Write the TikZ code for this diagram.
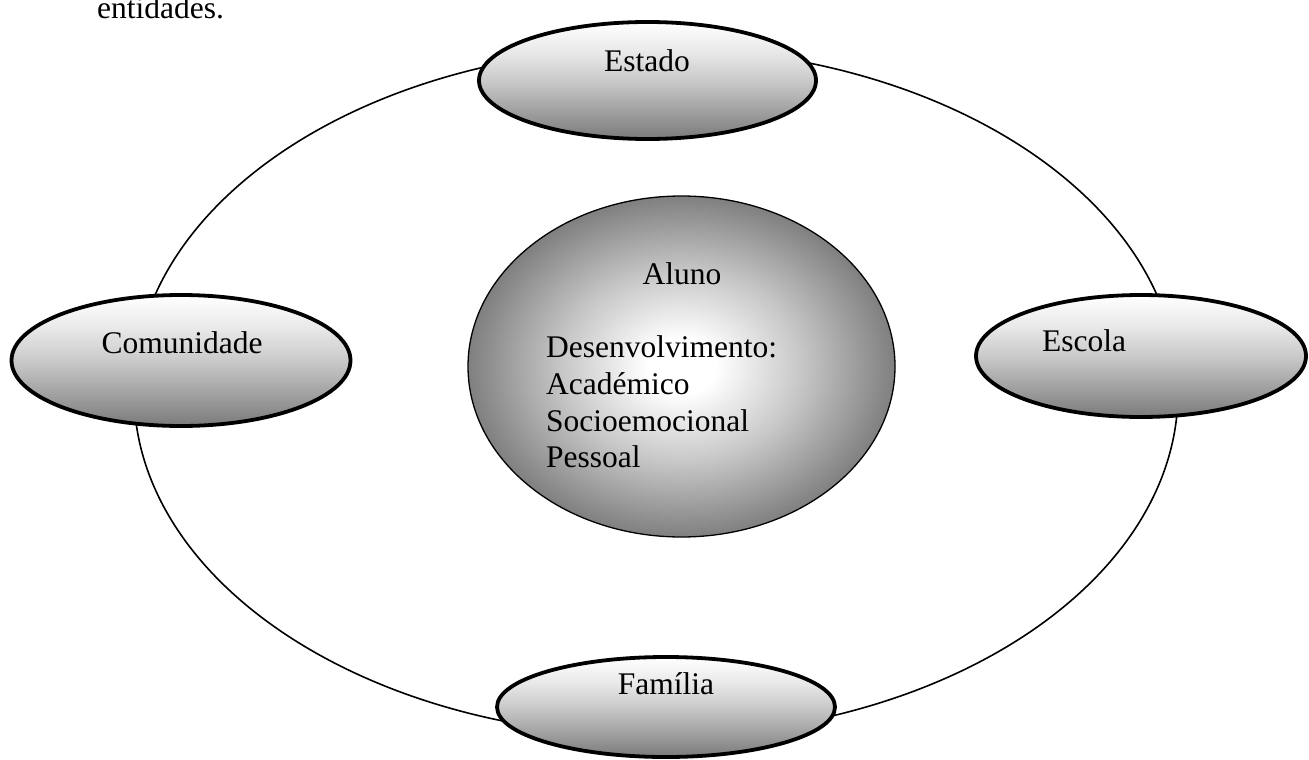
\documentclass[tikz,border=0pt]{standalone}
\usepackage{fontspec}
\setmainfont{Liberation Serif}
\usetikzlibrary{shapes.geometric}

% Soft white-to-grey glow for the central ellipse (25bp = edge of the shape)
\pgfdeclareradialshading{alunoglow}{\pgfpoint{0bp}{0bp}}{%
  color(0bp)=(white); color(4bp)=(white); color(14bp)=(black!22);
  color(25bp)=(black!50); color(50bp)=(black!55)}

% Top-lit fade for the entity ellipses (25bp = bottom, 75bp = top)
\pgfdeclareverticalshading{entityfade}{100bp}{%
  color(0bp)=(black!52); color(25bp)=(black!52); color(50bp)=(black!21);
  color(62bp)=(black!9); color(75bp)=(white); color(100bp)=(white)}

\begin{document}
\begin{tikzpicture}[x=1pt,y=-1pt,
  txt/.style={font=\fontsize{31.5}{36}\selectfont, inner sep=0pt, anchor=base},
  entity/.style={ellipse, draw=black, line width=3.8pt, inner sep=0pt,
    shading=entityfade},
  ring/.style={draw=black, line width=1.6pt}
]
\useasboundingbox (0,0) rectangle (1309,760);

% caption fragment above the diagram
\node[txt, anchor=base west] (caption) at (97,19) {entidades.};

% ring linking the four entities
\draw[ring] (656,392) ellipse [x radius=522, y radius=344];

% entities on the ring
\node[entity, minimum width=337pt, minimum height=117pt] (estado) at (647.5,80.5) {};
\node[entity, minimum width=339pt, minimum height=131pt] (comunidade) at (181,360.5) {};
\node[entity, minimum width=330pt, minimum height=122pt] (escola) at (1141,356) {};
\node[entity, minimum width=338pt, minimum height=100pt] (familia) at (666,707) {};

\node[txt] (estado-t) at (647,72) {Estado};
\node[txt] (comunidade-t) at (182,353) {Comunidade};
\node[txt] (escola-t) at (1084,351) {Escola};
\node[txt] (familia-t) at (666,694) {Família};

% the student at the centre
\node[ellipse, draw=black, line width=1.3pt, shading=alunoglow, inner sep=0pt,
  minimum width=427pt, minimum height=341pt] (aluno) at (681.5,366.5) {};

\node[txt] (aluno-t) at (682,284) {Aluno};
\node[txt, anchor=base west] (dev-1) at (546,357) {Desenvolvimento:};
\node[txt, anchor=base west] (dev-2) at (546,394) {Académico};
\node[txt, anchor=base west] (dev-3) at (546,431) {Socioemocional};
\node[txt, anchor=base west] (dev-4) at (546,467) {Pessoal};
\end{tikzpicture}
\end{document}
